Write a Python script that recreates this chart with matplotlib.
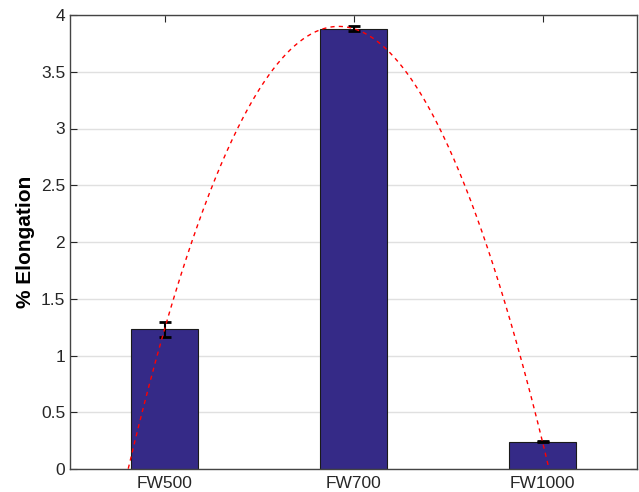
import numpy as np
import matplotlib.pyplot as plt

plt.rcParams['font.family'] = ['Liberation Sans', 'DejaVu Sans']

# data
labels = ["FW500", "FW700", "FW1000"]
elongation = [1.23, 3.88, 0.24]
err = [0.065, 0.02, 0.006]

x = np.arange(1, len(labels) + 1)

# quadratic trend through the three bar heights
coef = np.polyfit(x, elongation, 2)
xs = np.linspace(0.5, 3.5, 400)
ys = np.polyval(coef, xs)

fig = plt.figure(figsize=(6.39, 4.92), dpi=100)
ax = fig.add_axes([70 / 639, 23 / 492, 567 / 639, 454 / 492])

ax.bar(x, elongation, width=0.355, color="#352a87", edgecolor="#1a1a1a",
       linewidth=0.8, zorder=2)
ax.errorbar(x, elongation, yerr=err, fmt="none", ecolor="black",
            elinewidth=1.5, capsize=4, capthick=2, zorder=3)
ax.plot(xs, ys, "--", color="red", linewidth=1, dashes=(3, 3), zorder=4)

ax.set_xlim(0.5, 3.5)
ax.set_ylim(0, 4)
ax.set_xticks(x)
ax.set_xticklabels(labels)
ax.set_yticks(np.arange(0, 4.01, 0.5))
ax.set_yticklabels(["0", "0.5", "1", "1.5", "2", "2.5", "3", "3.5", "4"])
ax.yaxis.grid(True, color="#e0e0e0", linewidth=1)
ax.set_axisbelow(True)
ax.tick_params(direction="in", top=True, right=True, length=5,
               labelsize=12.5, colors="#262626")
ax.tick_params(axis="x", pad=5)
for s in ax.spines.values():
    s.set_color("#444444")
    s.set_linewidth(1)

ax.set_ylabel("% Elongation", fontsize=15, fontweight="bold", labelpad=4)

fig.savefig("out.png", dpi=100)
